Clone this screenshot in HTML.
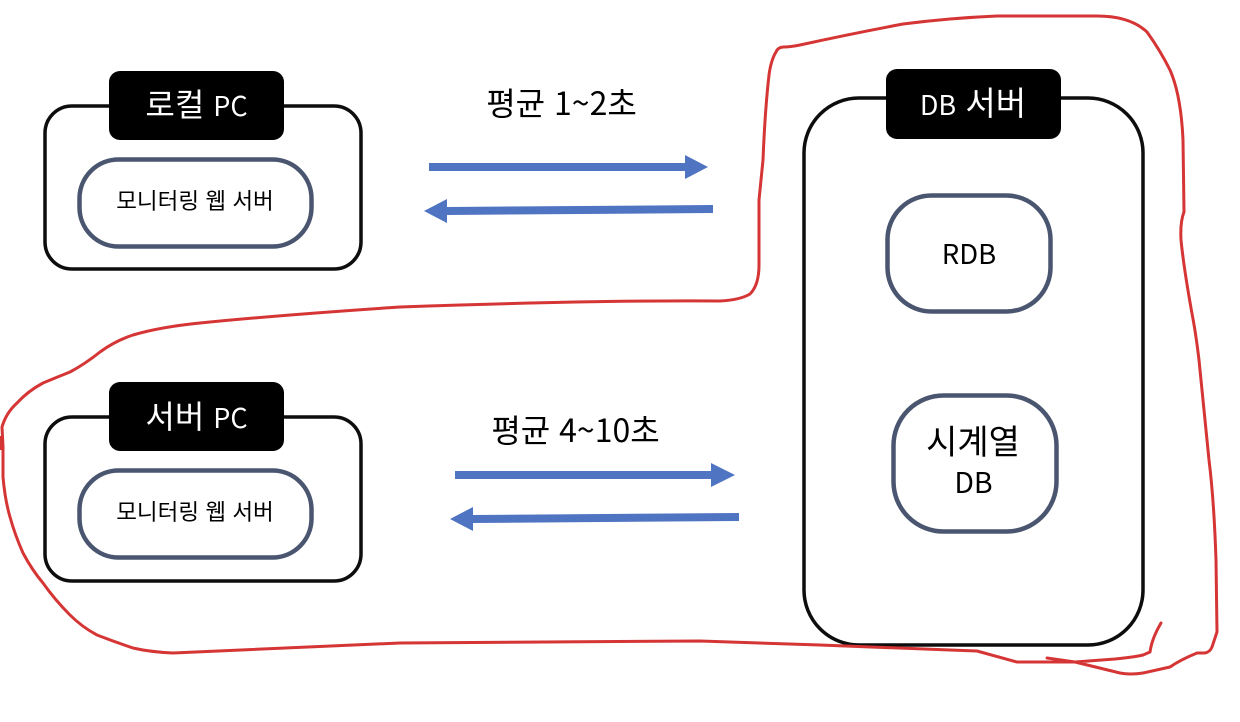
<!DOCTYPE html>
<html lang="ko">
<head>
<meta charset="utf-8">
<style>
html,body{margin:0;padding:0;background:#fff;width:1240px;height:722px;overflow:hidden}
svg{display:block}
text{font-family:"Noto Sans CJK KR","Liberation Sans",sans-serif;text-anchor:middle}
.b{fill:#fff;stroke:#0d0d0d;stroke-width:3.5}
.i{fill:#fff;stroke:#4a5670;stroke-width:4.5}
.r{fill:none;stroke:#d53535;stroke-width:3;stroke-linejoin:round;stroke-linecap:round}
.w{fill:#fff}
.k{fill:#000}
.a{fill:#4f74c2}
</style>
</head>
<body>
<svg width="1240" height="722" viewBox="0 0 1240 722" xmlns="http://www.w3.org/2000/svg">
<rect width="1240" height="722" fill="#fff"/>

<!-- Local PC -->
<rect class="b" x="45" y="106" width="316" height="163" rx="27"/>
<rect class="k" x="109" y="71" width="175" height="69" rx="11"/>
<text class="w" x="196.500" y="116" font-size="32">로컬 <tspan font-size="27">PC</tspan></text>
<rect class="i" x="79.500" y="159.500" width="232" height="87" rx="39"/>
<text class="k" x="195" y="209" font-size="22.500">모니터링 웹 서버</text>

<!-- Server PC -->
<rect class="b" x="45" y="417" width="316" height="164" rx="27"/>
<rect class="k" x="109" y="382" width="175" height="69" rx="11"/>
<text class="w" x="196.500" y="428" font-size="32">서버 <tspan font-size="27">PC</tspan></text>
<rect class="i" x="79.500" y="470.500" width="232" height="87" rx="39"/>
<text class="k" x="195" y="520" font-size="22.500">모니터링 웹 서버</text>

<!-- DB server -->
<rect class="b" x="804" y="98" width="339" height="547" rx="55"/>
<rect class="k" x="886" y="69" width="175" height="70" rx="11"/>
<text class="w" x="973" y="115" font-size="33"><tspan font-size="27">DB</tspan> 서버</text>
<rect class="i" x="887.500" y="195.500" width="163" height="116" rx="44"/>
<text class="k" x="969" y="264" font-size="27.500">RDB</text>
<rect class="i" x="893.500" y="395.500" width="163" height="136" rx="50"/>
<text class="k" x="973" y="454" font-size="34">시계열</text>
<text class="k" x="973.500" y="493" font-size="28.500">DB</text>

<!-- Labels -->
<text class="k" x="561.500" y="115" font-size="32">평균 1~2초</text>
<text class="k" x="575.500" y="442" font-size="32">평균 4~10초</text>

<!-- Arrows -->
<polygon class="a" points="429,163 685,163 685,155 708,167 685,179 685,171 429,171"/>
<polygon class="a" points="713,205 447,207 447,199 424,211 447,223 447,215 713,213"/>
<polygon class="a" points="455,471 711,471 711,463 735,475 711,487 711,479 455,479"/>
<polygon class="a" points="739,513 473,515 473,507 450,519 473,531 473,523 739,521"/>

<!-- Red freehand -->
<path class="r" d="M1047,658 L1075,662 L1120,673 Q1130,675 1143,673 L1170,667 Q1180,660 1197,653 L1205,653 Q1210,652 1212,647 L1217,632 L1216,560 Q1214,500 1209,460 Q1204,410 1199,360 Q1196,335 1193,319 Q1184,270 1181,240 Q1180,222 1184,212 L1183,140 Q1181,95 1170,70 Q1160,50 1147,32 Q1130,16 1097,16 L997,16 Q950,18 903,24 Q850,34 800,45 Q790,47 784,47 Q778,47 776,52 Q771,60 769,75 Q765,110 763,160 L759,200 L759,265 Q759,285 750,294 Q740,300 720,301 Q600,300 400,307 Q280,315 200,323 Q160,327 133,335 Q115,341 100,352 Q85,364 70,372 Q55,378 43,383 Q28,391 17,403 Q6,413 2,427 L3,447 L3,477 Q5,500 10,517 Q15,535 23,553 Q32,570 43,583 Q55,600 70,615 Q82,627 97,635 Q115,642 133,648 Q150,652 173,653 L400,643 L700,641 L820,645 L950,650 L977,651 L1017,662 L1075,662 L1115,659 Q1135,657 1143,655 L1150,652 Q1152,638 1161,623"/>
<path d="M2,436 L2,450" stroke="#d53535" stroke-width="4" fill="none"/>
</svg>
</body>
</html>
